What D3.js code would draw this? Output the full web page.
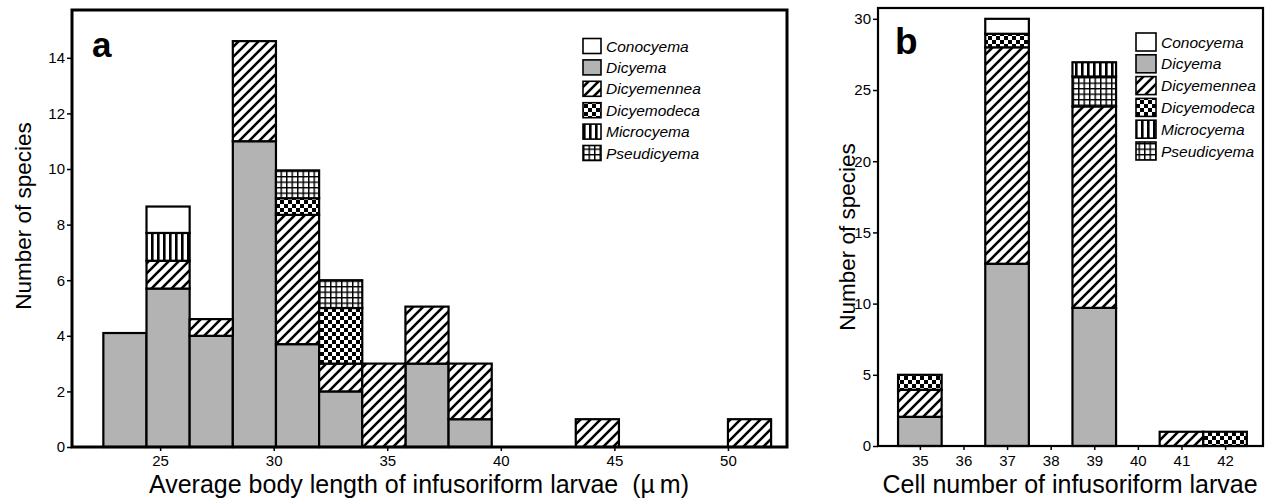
<!DOCTYPE html>
<html>
<head>
<meta charset="utf-8">
<script src="https://cdn.jsdelivr.net/npm/d3@7"></script>
<style>
  body { margin: 0; background: #fff; }
  svg { display: block; font-family: "Liberation Sans", Arial, sans-serif; }
  .tick text { font-size: 15px; fill: #000; }
  .legend text { font-style: italic; font-size: 15.5px; }
</style>
</head>
<body>
<svg id="svg" width="1268" height="499"></svg>
<script>
window.addEventListener("load", init);

// legend order
var genera = ["Conocyema", "Dicyema", "Dicyemennea", "Dicyemodeca", "Microcyema", "Pseudicyema"];
// bottom to top in each bar
var stack_order = ["Dicyema", "Dicyemennea", "Dicyemodeca", "Pseudicyema", "Microcyema", "Conocyema"];

// panel a: body length bins (left edge, um)
var bin_start_a = [22.5, 24.4, 26.3, 28.2, 30.1, 32.0, 33.9, 35.8, 37.7, 43.3, 50.0];
var bin_width_a = 1.9;
var dicyema_a      = [4.1, 5.7, 4.0, 11.0, 3.7, 2.0, 0, 3.0, 1.0, 0, 0];
var dicyemennea_a  = [0, 1.0, 0.6, 3.6, 4.65, 1.0, 3.0, 2.05, 2.0, 1.0, 1.0];
var dicyemodeca_a  = [0, 0, 0, 0, 0.6, 2.0, 0, 0, 0, 0, 0];
var pseudicyema_a  = [0, 0, 0, 0, 1.0, 1.0, 0, 0, 0, 0, 0];
var microcyema_a   = [0, 1.0, 0, 0, 0, 0, 0, 0, 0, 0, 0];
var conocyema_a    = [0, 0.95, 0, 0, 0, 0, 0, 0, 0, 0, 0];
var yticks_a = [0, 2, 4, 6, 8, 10, 12, 14];
var xticks_a = [25, 30, 35, 40, 45, 50];

// panel b: cell number
var cells_b = [35, 36, 37, 38, 39, 40, 41, 42];
var dicyema_b      = [2.05, 0, 12.8, 0, 9.7, 0, 0, 0];
var dicyemennea_b  = [1.9, 0, 15.2, 0, 14.15, 0, 1.0, 0];
var dicyemodeca_b  = [1.05, 0, 0.95, 0, 0, 0, 0, 1.0];
var pseudicyema_b  = [0, 0, 0, 0, 2.1, 0, 0, 0];
var microcyema_b   = [0, 0, 0, 0, 1.0, 0, 0, 0];
var conocyema_b    = [0, 0, 1.05, 0, 0, 0, 0, 0];
var yticks_b = [0, 5, 10, 15, 20, 25, 30];
var xticks_b = [35, 36, 37, 38, 39, 40, 41, 42];

var svg;

function init(){
  svg = d3.select("#svg");
  make_patterns();
  draw_panel_a();
  draw_panel_b();
}

function fill_of(g){
  if (g == "Conocyema") return "#fff";
  if (g == "Dicyema") return "#b3b3b3";
  return "url(#pat_" + g + ")";
}

function make_patterns(){
  var defs = svg.append("defs");

  var p = defs.append("pattern").attr("id", "pat_Dicyemennea")
    .attr("patternUnits", "userSpaceOnUse").attr("width", 10).attr("height", 10);
  p.append("rect").attr("width", 10).attr("height", 10).attr("fill", "#fff");
  p.append("path").attr("d", "M-2,2L2,-2M0,10L10,0M8,12L12,8")
    .attr("stroke", "#000").attr("stroke-width", 2.6);

  p = defs.append("pattern").attr("id", "pat_Dicyemodeca")
    .attr("patternUnits", "userSpaceOnUse").attr("width", 8).attr("height", 8);
  p.append("rect").attr("width", 8).attr("height", 8).attr("fill", "#fff");
  p.append("rect").attr("width", 4).attr("height", 4).attr("fill", "#000");
  p.append("rect").attr("x", 4).attr("y", 4).attr("width", 4).attr("height", 4).attr("fill", "#000");

  p = defs.append("pattern").attr("id", "pat_Microcyema")
    .attr("patternUnits", "userSpaceOnUse").attr("width", 6).attr("height", 6);
  p.append("rect").attr("width", 6).attr("height", 6).attr("fill", "#fff");
  p.append("rect").attr("x", 1).attr("width", 2.6).attr("height", 6).attr("fill", "#000");

  p = defs.append("pattern").attr("id", "pat_Pseudicyema")
    .attr("patternUnits", "userSpaceOnUse").attr("width", 5.5).attr("height", 5.5);
  p.append("rect").attr("width", 5.5).attr("height", 5.5).attr("fill", "#fff");
  p.append("path").attr("d", "M0.7,0V5.5M0,0.7H5.5")
    .attr("stroke", "#000").attr("stroke-width", 1.5);
}

function build_rows(n, series, pos){
  var rows = [];
  for (var i = 0; i < n; i++){
    var r = {pos: pos[i]};
    for (var g in series) r[g] = series[g][i];
    rows.push(r);
  }
  return rows;
}

function draw_bars(g, rows, x, y, x0, x1){
  var layers = d3.stack().keys(stack_order)(rows);
  layers.forEach(function (layer) {
    g.selectAll(null)
      .data(layer.filter(function (d) { return d[1] - d[0] > 0; }))
      .enter().append("rect")
      .attr("x", function (d) { return x(x0(d.data.pos)); })
      .attr("width", function (d) { return x(x1(d.data.pos)) - x(x0(d.data.pos)); })
      .attr("y", function (d) { return y(d[1]); })
      .attr("height", function (d) { return y(d[0]) - y(d[1]); })
      .attr("fill", fill_of(layer.key))
      .attr("stroke", "#000")
      .attr("stroke-width", 2.2);
  });
}

function draw_legend(lx, ly, step, bw, bh, tx){
  var lg = svg.append("g").attr("class", "legend");
  genera.forEach(function (name, i) {
    var cy = ly + i * step;
    lg.append("rect").attr("x", lx).attr("y", cy - bh / 2)
      .attr("width", bw).attr("height", bh)
      .attr("fill", fill_of(name)).attr("stroke", "#000").attr("stroke-width", 1.6);
    lg.append("text").attr("x", tx).attr("y", cy + 5.5).text(name);
  });
}

function style_axis(ax){
  ax.select(".domain").remove();
  ax.selectAll(".tick line").attr("stroke", "#000").attr("stroke-width", 1.5);
}

function draw_panel_a(){
  var x = d3.scaleLinear().domain([21.12, 52.6]).range([72, 787]);
  var y = d3.scaleLinear().domain([0, 15.72]).range([447, 10]);
  var g = svg.append("g");

  var rows = build_rows(bin_start_a.length, {
    Dicyema: dicyema_a, Dicyemennea: dicyemennea_a, Dicyemodeca: dicyemodeca_a,
    Pseudicyema: pseudicyema_a, Microcyema: microcyema_a, Conocyema: conocyema_a
  }, bin_start_a);
  draw_bars(g, rows, x, y,
    function (p) { return p; },
    function (p) { return p + bin_width_a; });

  var ya = g.append("g").attr("transform", "translate(72,0)")
    .call(d3.axisLeft(y).tickValues(yticks_a).tickSize(5).tickPadding(2));
  style_axis(ya);
  var xa = g.append("g").attr("transform", "translate(0,447)")
    .call(d3.axisBottom(x).tickValues(xticks_a).tickSize(4).tickPadding(4));
  style_axis(xa);

  g.append("rect").attr("x", 72).attr("y", 10).attr("width", 787 - 72).attr("height", 437)
    .attr("fill", "none").attr("stroke", "#000").attr("stroke-width", 3);

  g.append("text").attr("x", 92).attr("y", 57).attr("font-size", 35).attr("font-weight", "bold").text("a");

  g.append("text").attr("transform", "translate(31,216) rotate(-90)")
    .attr("text-anchor", "middle").attr("font-size", 22.5).text("Number of species");
  g.append("text").attr("x", 419).attr("y", 493).attr("text-anchor", "middle")
    .attr("font-size", 25).attr("xml:space", "preserve")
    .text("Average body length of infusoriform larvae\u00a0 (\u00b5\u2009m)");

  draw_legend(583, 46, 21.4, 18, 15, 606);
}

function draw_panel_b(){
  var x = d3.scaleLinear().domain([34.04, 42.87]).range([878, 1263]);
  var y = d3.scaleLinear().domain([0, 30.76]).range([446, 8]);
  var g = svg.append("g");

  var rows = build_rows(cells_b.length, {
    Dicyema: dicyema_b, Dicyemennea: dicyemennea_b, Dicyemodeca: dicyemodeca_b,
    Pseudicyema: pseudicyema_b, Microcyema: microcyema_b, Conocyema: conocyema_b
  }, cells_b);
  draw_bars(g, rows, x, y,
    function (p) { return p - 0.5; },
    function (p) { return p + 0.5; });

  var ya = g.append("g").attr("transform", "translate(878,0)")
    .call(d3.axisLeft(y).tickValues(yticks_b).tickSize(5).tickPadding(2));
  style_axis(ya);
  var xa = g.append("g").attr("transform", "translate(0,446)")
    .call(d3.axisBottom(x).tickValues(xticks_b).tickSize(4).tickPadding(5));
  style_axis(xa);

  g.append("rect").attr("x", 878).attr("y", 8).attr("width", 1263 - 878).attr("height", 438)
    .attr("fill", "none").attr("stroke", "#000").attr("stroke-width", 2.2);

  g.append("text").attr("x", 895).attr("y", 54).attr("font-size", 37).attr("font-weight", "bold").text("b");

  g.append("text").attr("transform", "translate(855,237) rotate(-90)")
    .attr("text-anchor", "middle").attr("font-size", 22.5).text("Number of species");
  g.append("text").attr("x", 1070).attr("y", 493).attr("text-anchor", "middle")
    .attr("font-size", 25).text("Cell number of infusoriform larvae");

  draw_legend(1136, 42, 21.8, 20, 18, 1161);
}
</script>
</body>
</html>
